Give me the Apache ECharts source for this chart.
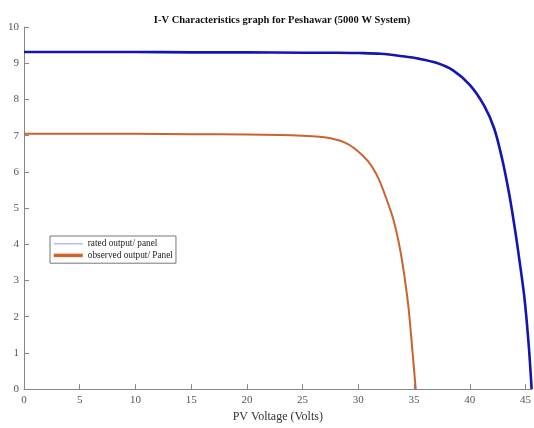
<!DOCTYPE html>
<html>
<head>
<meta charset="utf-8">
<script src="https://cdn.jsdelivr.net/npm/echarts@6/dist/echarts.min.js"></script>
<style>
html,body{margin:0;padding:0;background:#fff;}
#chart{width:534px;height:428px;}
</style>
</head>
<body>
<div id="chart"></div>
<script>
const titleText = 'I-V Characteristics graph for Peshawar (5000 W System)';
const xAxisName = 'PV Voltage (Volts)';
const xTicks = [0, 5, 10, 15, 20, 25, 30, 35, 40, 45];
const yTicks = [0, 1, 2, 3, 4, 5, 6, 7, 8, 9, 10];
const seriesNames = ['rated output/ panel', 'observed output/ Panel'];

const ratedVoltage = [0, 5, 10, 15, 20, 25, 28, 30, 32, 34, 35.5, 37, 38.5, 40, 41.3, 42.2, 42.9, 43.5, 43.9, 44.3, 44.9, 45.3, 45.55];
const ratedCurrent = [9.31, 9.31, 9.31, 9.30, 9.30, 9.29, 9.29, 9.28, 9.26, 9.19, 9.12, 9.01, 8.80, 8.40, 7.82, 7.19, 6.36, 5.45, 4.72, 3.90, 2.53, 1.17, 0];

const observedVoltage = [0, 5, 10, 15, 20, 23, 25, 26.5, 27.6, 28.7, 29.7, 30.9, 31.8, 32.5, 33.1, 33.6, 34.0, 34.5, 34.9, 35.15];
const observedCurrent = [7.05, 7.05, 7.05, 7.04, 7.03, 7.02, 7.00, 6.97, 6.92, 6.82, 6.64, 6.28, 5.82, 5.27, 4.73, 4.09, 3.40, 2.26, 0.89, 0];

const pairs = (xs, ys) => xs.map((x, i) => [x, ys[i]]);
const serif = 'Liberation Serif, Times New Roman, serif';

const chart = echarts.init(document.getElementById('chart'));
chart.setOption({
  animation: false,
  backgroundColor: '#fff',
  title: {
    text: titleText,
    left: 277, textAlign: 'center', top: 10,
    textStyle: { fontFamily: serif, fontWeight: 'bold', fontSize: 10.5, color: '#111' }
  },
  grid: { left: 24, right: 0, top: 27, bottom: 35 },
  legend: {
    orient: 'vertical',
    left: 50, top: 236,
    backgroundColor: '#fff',
    borderColor: '#777', borderWidth: 1,
    padding: [3, 3, 3, 2],
    itemGap: 2,
    itemWidth: 29, itemHeight: 12,
    textStyle: { fontFamily: serif, fontSize: 9.3, color: '#222' },
    data: [
      { name: seriesNames[0], itemStyle: { opacity: 0 }, lineStyle: { color: '#9a9ae6', width: 1 } },
      { name: seriesNames[1], itemStyle: { opacity: 0 }, lineStyle: { color: '#d0622a', width: 3.5 } }
    ]
  },
  xAxis: {
    type: 'value', min: 0, max: 45.55,
    name: xAxisName, nameLocation: 'middle', nameGap: 17,
    nameTextStyle: { fontFamily: serif, fontSize: 12, color: '#333' },
    splitLine: { show: false },
    axisLine: { show: true, lineStyle: { color: '#888', width: 1 } },
    axisTick: { show: true, inside: true, length: 5, customValues: xTicks, lineStyle: { color: '#888' } },
    axisLabel: { customValues: xTicks, fontFamily: serif, fontSize: 11, color: '#555', margin: 6 }
  },
  yAxis: {
    type: 'value', min: 0, max: 10, interval: 1,
    splitLine: { show: false },
    axisLine: { show: true, lineStyle: { color: '#888', width: 1 } },
    axisTick: { show: true, inside: true, length: 5, lineStyle: { color: '#888' } },
    axisLabel: { customValues: yTicks, fontFamily: serif, fontSize: 11, color: '#555', margin: 5 }
  },
  series: [
    {
      name: seriesNames[0], type: 'line', data: pairs(ratedVoltage, ratedCurrent),
      smooth: 0.3, showSymbol: false, symbol: 'none',
      lineStyle: { color: '#1414b4', width: 2.6 }, itemStyle: { color: '#1414b4' }, z: 3
    },
    {
      name: seriesNames[1], type: 'line', data: pairs(observedVoltage, observedCurrent),
      smooth: 0.3, showSymbol: false, symbol: 'none',
      lineStyle: { color: '#cc6230', width: 2 }, itemStyle: { color: '#cc6230' }, z: 2
    }
  ]
});
</script>
</body>
</html>
